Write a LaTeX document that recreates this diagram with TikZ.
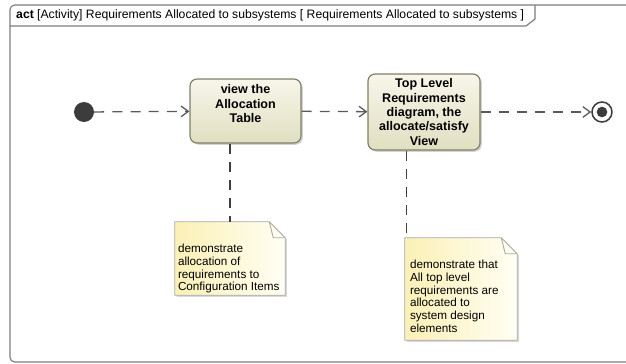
\documentclass[tikz,border=0pt]{standalone}
\usepackage{fontspec}
\setmainfont{Liberation Sans}
\usepackage{tikz}
\usetikzlibrary{arrows.meta}
\usetikzlibrary{positioning}
\usetikzlibrary{shadows}
\definecolor{framegray}{HTML}{7C7C7C}
\definecolor{actionborder}{HTML}{7F7F68}
\definecolor{actiontop}{HTML}{F7F6EA}
\definecolor{actionbottom}{HTML}{E1DFC1}
\definecolor{notetop}{HTML}{FBF0B6}
\definecolor{notebottom}{HTML}{FFFFF4}
\definecolor{noteborder}{HTML}{A9A9A9}
\definecolor{flowgray}{HTML}{5A5A5A}
\definecolor{nodegray}{HTML}{3C3C3C}
\tikzstyle{action} = [rectangle, rounded corners=6pt, draw=actionborder, line width=1pt, top color=actiontop, bottom color=actionbottom, align=center, font=\fontsize{10.7}{12.3}\selectfont\bfseries, drop shadow={opacity=0.35, shadow xshift=1.5pt, shadow yshift=-1.5pt}]
\tikzstyle{notebox} = [rectangle, inner sep=0pt]
\tikzstyle{noteline} = [draw=noteborder, line width=0.8pt, left color=notetop, right color=notebottom, drop shadow={opacity=0.3, shadow xshift=1.5pt, shadow yshift=-1.5pt}]
\tikzstyle{notetext} = [align=left, inner sep=0pt, anchor=north west, font=\fontsize{10}{10.9}\selectfont]
\tikzstyle{flow} = [draw=flowgray, line width=1.1pt, dash pattern=on 8.5pt off 7pt, ->, >={Straight Barb[length=2.2mm,width=3.2mm]}]
\tikzstyle{anchorline} = [draw=black!75, line width=1pt, dash pattern=on 8.5pt off 7pt]
\tikzstyle{frameline} = [draw=framegray, line width=1pt]

\begin{document}
\begin{tikzpicture}[x=0.03cm, y=-0.03cm]
\useasboundingbox (0,0) rectangle (626,363);

% frame and heading
\draw [frameline, rounded corners=4pt] (660,362) -- (10,362) -- (10,5) -- (660,5);
\draw [frameline] (10,26) -- (526,26) -- (535,19) -- (535,5);
\node (title) [anchor=west, inner sep=0pt, font=\fontsize{10.4}{12}\selectfont] at (16,15.5) {\textbf{act} [Activity] Requirements Allocated to subsystems [ Requirements Allocated to subsystems ]};

% activity nodes
\node (init) [circle, fill=nodegray, minimum size=0.6cm, inner sep=0pt] at (84,112) {};
\node (a1) [action, minimum width=3.33cm, minimum height=1.92cm] at (245.5,111) {view the\\Allocation\\Table\\\mbox{}};
\node (a2) [action, minimum width=3.36cm, minimum height=2.28cm] at (424,112) {Top Level\\Requirements\\diagram, the\\allocate/satisfy\\View};
\node (final) [circle, draw=nodegray, line width=1.3pt, fill=white, minimum size=0.6cm, inner sep=0pt] at (602,112) {};
\node (finaldot) [circle, fill=nodegray, minimum size=0.32cm, inner sep=0pt] at (final) {};

% notes
\node (n1) [notebox, minimum width=3.3cm, minimum height=2.19cm] at (230,258.5) {};
\node (n2) [notebox, minimum width=3.36cm, minimum height=3.06cm] at (461,289) {};
\foreach \n in {n1,n2} {
  \path [noteline] (\n.north west) -- ([xshift=-0.48cm]\n.north east) -- ([yshift=-0.48cm]\n.north east) -- (\n.south east) -- (\n.south west) -- cycle;
  \draw [draw=noteborder, line width=0.8pt] ([xshift=-0.48cm]\n.north east) -- ([xshift=-0.36cm,yshift=-0.48cm]\n.north east) -- ([yshift=-0.48cm]\n.north east);
}
\node (t1) [notetext] at ([xshift=0.09cm,yshift=-0.66cm]n1.north west) {demonstrate\\allocation of\\requirements to\\Configuration Items};
\node (t2) [notetext] at ([xshift=0.15cm,yshift=-0.66cm]n2.north west) {demonstrate that\\All top level\\requirements are\\allocated to\\system design\\elements};

% flows
\draw [flow] (init) -- (a1);
\draw [flow] (a1) -- (a2);
\draw [flow] (a2) -- (final);

% note anchors
\draw [anchorline] (n1.north |- a1.south) -- (n1.north);
\draw [anchorline] ([xshift=0.06cm]n2.north west |- a2.south) -- ([xshift=0.06cm]n2.north west);
\end{tikzpicture}
\end{document}
